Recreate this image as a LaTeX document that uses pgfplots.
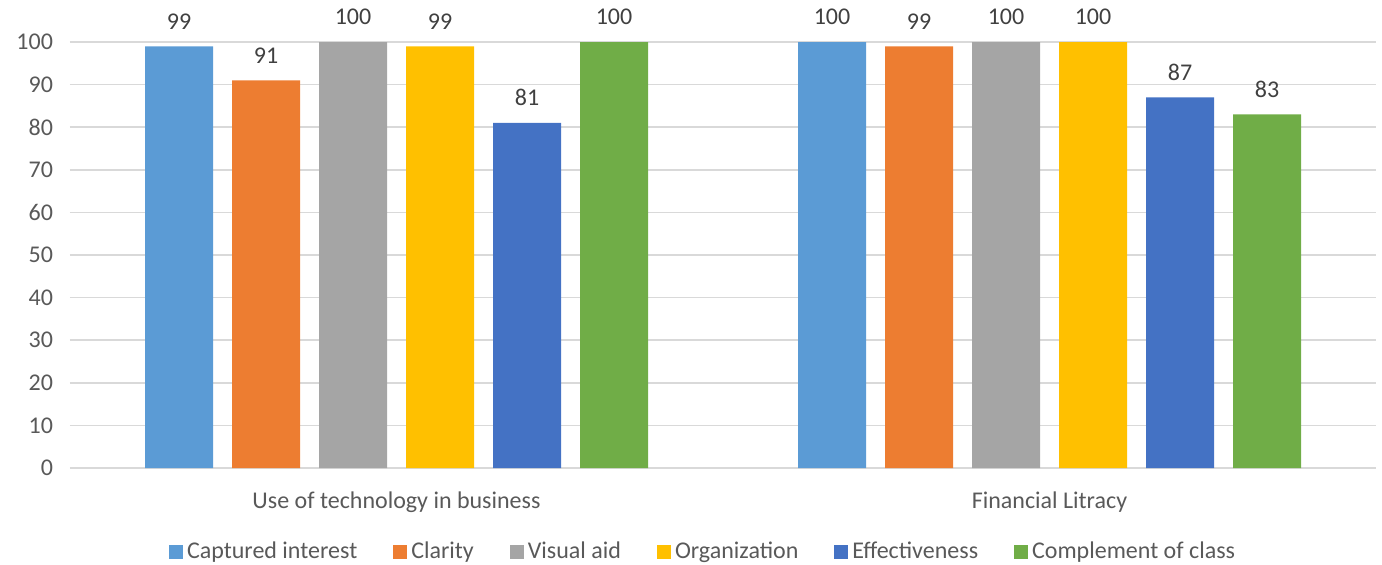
\documentclass[border=0pt]{standalone}
\usepackage{pgfplots}
\pgfplotsset{compat=1.18}
\usepackage{fontspec}
\setmainfont{Carlito}
\definecolor{c1}{HTML}{5B9BD5}
\definecolor{c2}{HTML}{ED7D31}
\definecolor{c3}{HTML}{A5A5A5}
\definecolor{c4}{HTML}{FFC000}
\definecolor{c5}{HTML}{4472C4}
\definecolor{c6}{HTML}{70AD47}
\definecolor{txt}{HTML}{595959}
\definecolor{lbl}{HTML}{404040}
\definecolor{gridc}{HTML}{D9D9D9}
\begin{document}
\begin{tikzpicture}
\path[use as bounding box] (-35pt,-48pt) rectangle (656pt,234pt);
\begin{axis}[at={(0,0)}, anchor=south west, scale only axis,
  width=653pt, height=213pt,
  ymin=0, ymax=100, xmin=-0.5, xmax=1.5,
  ytick={0,10,...,100}, xtick={0,1},
  xticklabels={Use of technology in business, Financial Litracy},
  ymajorgrids, grid style={draw=gridc, line width=0.8pt},
  axis line style={draw=none}, major tick length=0pt,
  ybar=9.5pt, bar width=34pt,
  /pgf/number format/assume math mode=true,
  tick label style={font=\fontsize{12}{14}\selectfont, text=txt},
  yticklabel style={xshift=-5pt},
  xticklabel style={yshift=-8.5pt},
  nodes near coords,
  nodes near coords style={font=\fontsize{12}{14}\selectfont, text=lbl, yshift=5pt},
  legend columns=-1,
  legend style={draw=none, fill=none, at={(0.4855,-0.197)}, anchor=center,
    font=\fontsize{12}{14}\selectfont, text=txt,
    /tikz/every even column/.append style={column sep=16pt},
    inner sep=0pt},
  legend image code/.code={\fill[#1] (0pt,-3.5pt) rectangle (7pt,3.5pt);},
]
\addplot[fill=c1, draw=none] coordinates {(0,99) (1,100)};
\addplot[fill=c2, draw=none] coordinates {(0,91) (1,99)};
\addplot[fill=c3, draw=none] coordinates {(0,100) (1,100)};
\addplot[fill=c4, draw=none] coordinates {(0,99) (1,100)};
\addplot[fill=c5, draw=none] coordinates {(0,81) (1,87)};
\addplot[fill=c6, draw=none] coordinates {(0,100) (1,83)};
\legend{Captured interest, Clarity, Visual aid, Organization, Effectiveness, Complement of class}
\end{axis}
\end{tikzpicture}
\end{document}
